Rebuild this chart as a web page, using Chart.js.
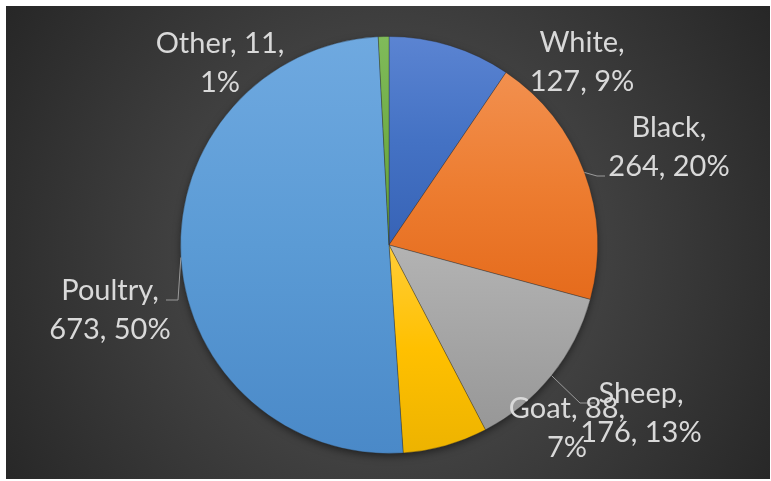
<!DOCTYPE html>
<html>
<head>
<meta charset="utf-8">
<title>Livestock pie</title>
<script src="https://cdn.jsdelivr.net/npm/chart.js@4.4.1/dist/chart.umd.min.js"></script>
<style>
  body { margin: 0; background: #fff; }
  #wrap { position: absolute; left: 6px; top: 6px; width: 764px; height: 473px; }
</style>
</head>
<body>
<div id="wrap"><canvas id="pie"></canvas></div>
<script>
const categories = ['White', 'Black', 'Sheep', 'Goat', 'Poultry', 'Other'];
const counts = [127, 264, 176, 88, 673, 11];
// how many parts ("name", "value", "pct") go on the first label line
const firstLineParts = [1, 1, 1, 2, 1, 2];

// each slice gets its own top -> middle -> bottom gradient
const lightColors = ['#5b84d2', '#f2904f', '#b3b3b3', '#ffcd38', '#6fa9e0', '#80bb5a'];
const baseColors = ['#4472c4', '#ed7d31', '#a5a5a5', '#ffc000', '#5b9bd5', '#70ad47'];
const darkColors = ['#3763b6', '#e56b1c', '#979797', '#edb300', '#4a89c8', '#62a03a'];

// label spots, offset from the pie centre (px); leader = elbow + end points
const labelSpots = [
  { dx: 193, dy: -193 },
  { dx: 280, dy: -108, leader: [[208, -69], [216, -69]] },
  { dx: 252, dy: 158, leader: [[191, 158], [206, 158]] },
  { dx: 178, dy: 173 },
  { dx: -279, dy: 55, leader: [[-211, 55], [-223, 55]] },
  { dx: -169, dy: -192 }
];

const total = counts.reduce((a, b) => a + b, 0);

// vertical extent of slice i, worked out from the chart area the pie sits in
function sliceExtent(chart, i) {
  const area = chart.chartArea;
  const cy = (area.top + area.bottom) / 2;
  const r = Math.min(area.right - area.left, area.bottom - area.top) / 2;
  const before = counts.slice(0, i).reduce((a, b) => a + b, 0);
  const a0 = -Math.PI / 2 + 2 * Math.PI * before / total;
  const a1 = a0 + 2 * Math.PI * counts[i] / total;
  const ys = [cy, cy + r * Math.sin(a0), cy + r * Math.sin(a1)];
  const has = a => (a0 <= a && a <= a1);
  if (has(Math.PI / 2)) ys.push(cy + r);
  if (has(-Math.PI / 2) || has(3 * Math.PI / 2)) ys.push(cy - r);
  return [Math.min(...ys), Math.max(...ys)];
}

function sliceGradient(chart, i) {
  if (!chart.chartArea) return baseColors[i];
  const [y0, y1] = sliceExtent(chart, i);
  const g = chart.ctx.createLinearGradient(0, y0, 0, y1);
  g.addColorStop(0, lightColors[i]);
  g.addColorStop(0.5, baseColors[i]);
  g.addColorStop(1, darkColors[i]);
  return g;
}

const backdrop = {
  id: 'backdrop',
  beforeDraw(chart) {
    const { ctx, width, height } = chart;
    const arc = chart.getDatasetMeta(0).data[0];
    const cx = arc ? arc.x : width / 2;
    const cy = arc ? arc.y : height / 2;
    const g = ctx.createRadialGradient(cx, cy + 5, 0, cx, cy + 5, 460);
    g.addColorStop(0, '#575757');
    g.addColorStop(1, '#262626');
    ctx.save();
    ctx.fillStyle = g;
    ctx.fillRect(0, 0, width, height);
    ctx.restore();
  },
  beforeDatasetsDraw(chart) {
    const arc = chart.getDatasetMeta(0).data[0];
    if (!arc) return;
    const ctx = chart.ctx;
    ctx.save();
    ctx.shadowColor = 'rgba(0,0,0,0.55)';
    ctx.shadowBlur = 9;
    ctx.shadowOffsetY = 3;
    ctx.fillStyle = '#3a3a3a';
    ctx.beginPath();
    ctx.arc(arc.x, arc.y, arc.outerRadius - 1, 0, Math.PI * 2);
    ctx.fill();
    ctx.restore();
  }
};

const sliceLabels = {
  id: 'sliceLabels',
  afterDatasetsDraw(chart) {
    const ctx = chart.ctx;
    const arcs = chart.getDatasetMeta(0).data;
    ctx.save();
    arcs.forEach((arc, i) => {
      const spot = labelSpots[i];
      const pct = Math.round(counts[i] / total * 100) + '%';
      const parts = [categories[i], String(counts[i]), pct];
      const n = firstLineParts[i];
      const line1 = parts.slice(0, n).join(', ') + ',';
      const line2 = parts.slice(n).join(', ');

      if (spot.leader) {
        const mid = (arc.startAngle + arc.endAngle) / 2;
        ctx.strokeStyle = '#9a9a9a';
        ctx.lineWidth = 1;
        ctx.beginPath();
        ctx.moveTo(arc.x + Math.cos(mid) * arc.outerRadius, arc.y + Math.sin(mid) * arc.outerRadius);
        spot.leader.forEach(p => ctx.lineTo(arc.x + p[0], arc.y + p[1]));
        ctx.stroke();
      }

      ctx.fillStyle = '#d9d9d9';
      ctx.font = '29px Lato';
      ctx.textAlign = 'center';
      ctx.textBaseline = 'alphabetic';
      ctx.fillText(line1, arc.x + spot.dx, arc.y + spot.dy);
      ctx.fillText(line2, arc.x + spot.dx, arc.y + spot.dy + 39);
    });
    ctx.restore();
  }
};

new Chart(document.getElementById('pie'), {
  type: 'pie',
  data: {
    labels: categories,
    datasets: [{
      data: counts,
      backgroundColor: c => sliceGradient(c.chart, c.dataIndex),
      borderColor: 'rgba(40,40,40,0.35)',
      borderWidth: 1
    }]
  },
  options: {
    responsive: true,
    maintainAspectRatio: false,
    animation: false,
    layout: { padding: { top: 30, bottom: 25, left: 2, right: 0 } },
    plugins: {
      legend: { display: false },
      tooltip: { enabled: false }
    }
  },
  plugins: [backdrop, sliceLabels]
});
</script>
</body>
</html>
